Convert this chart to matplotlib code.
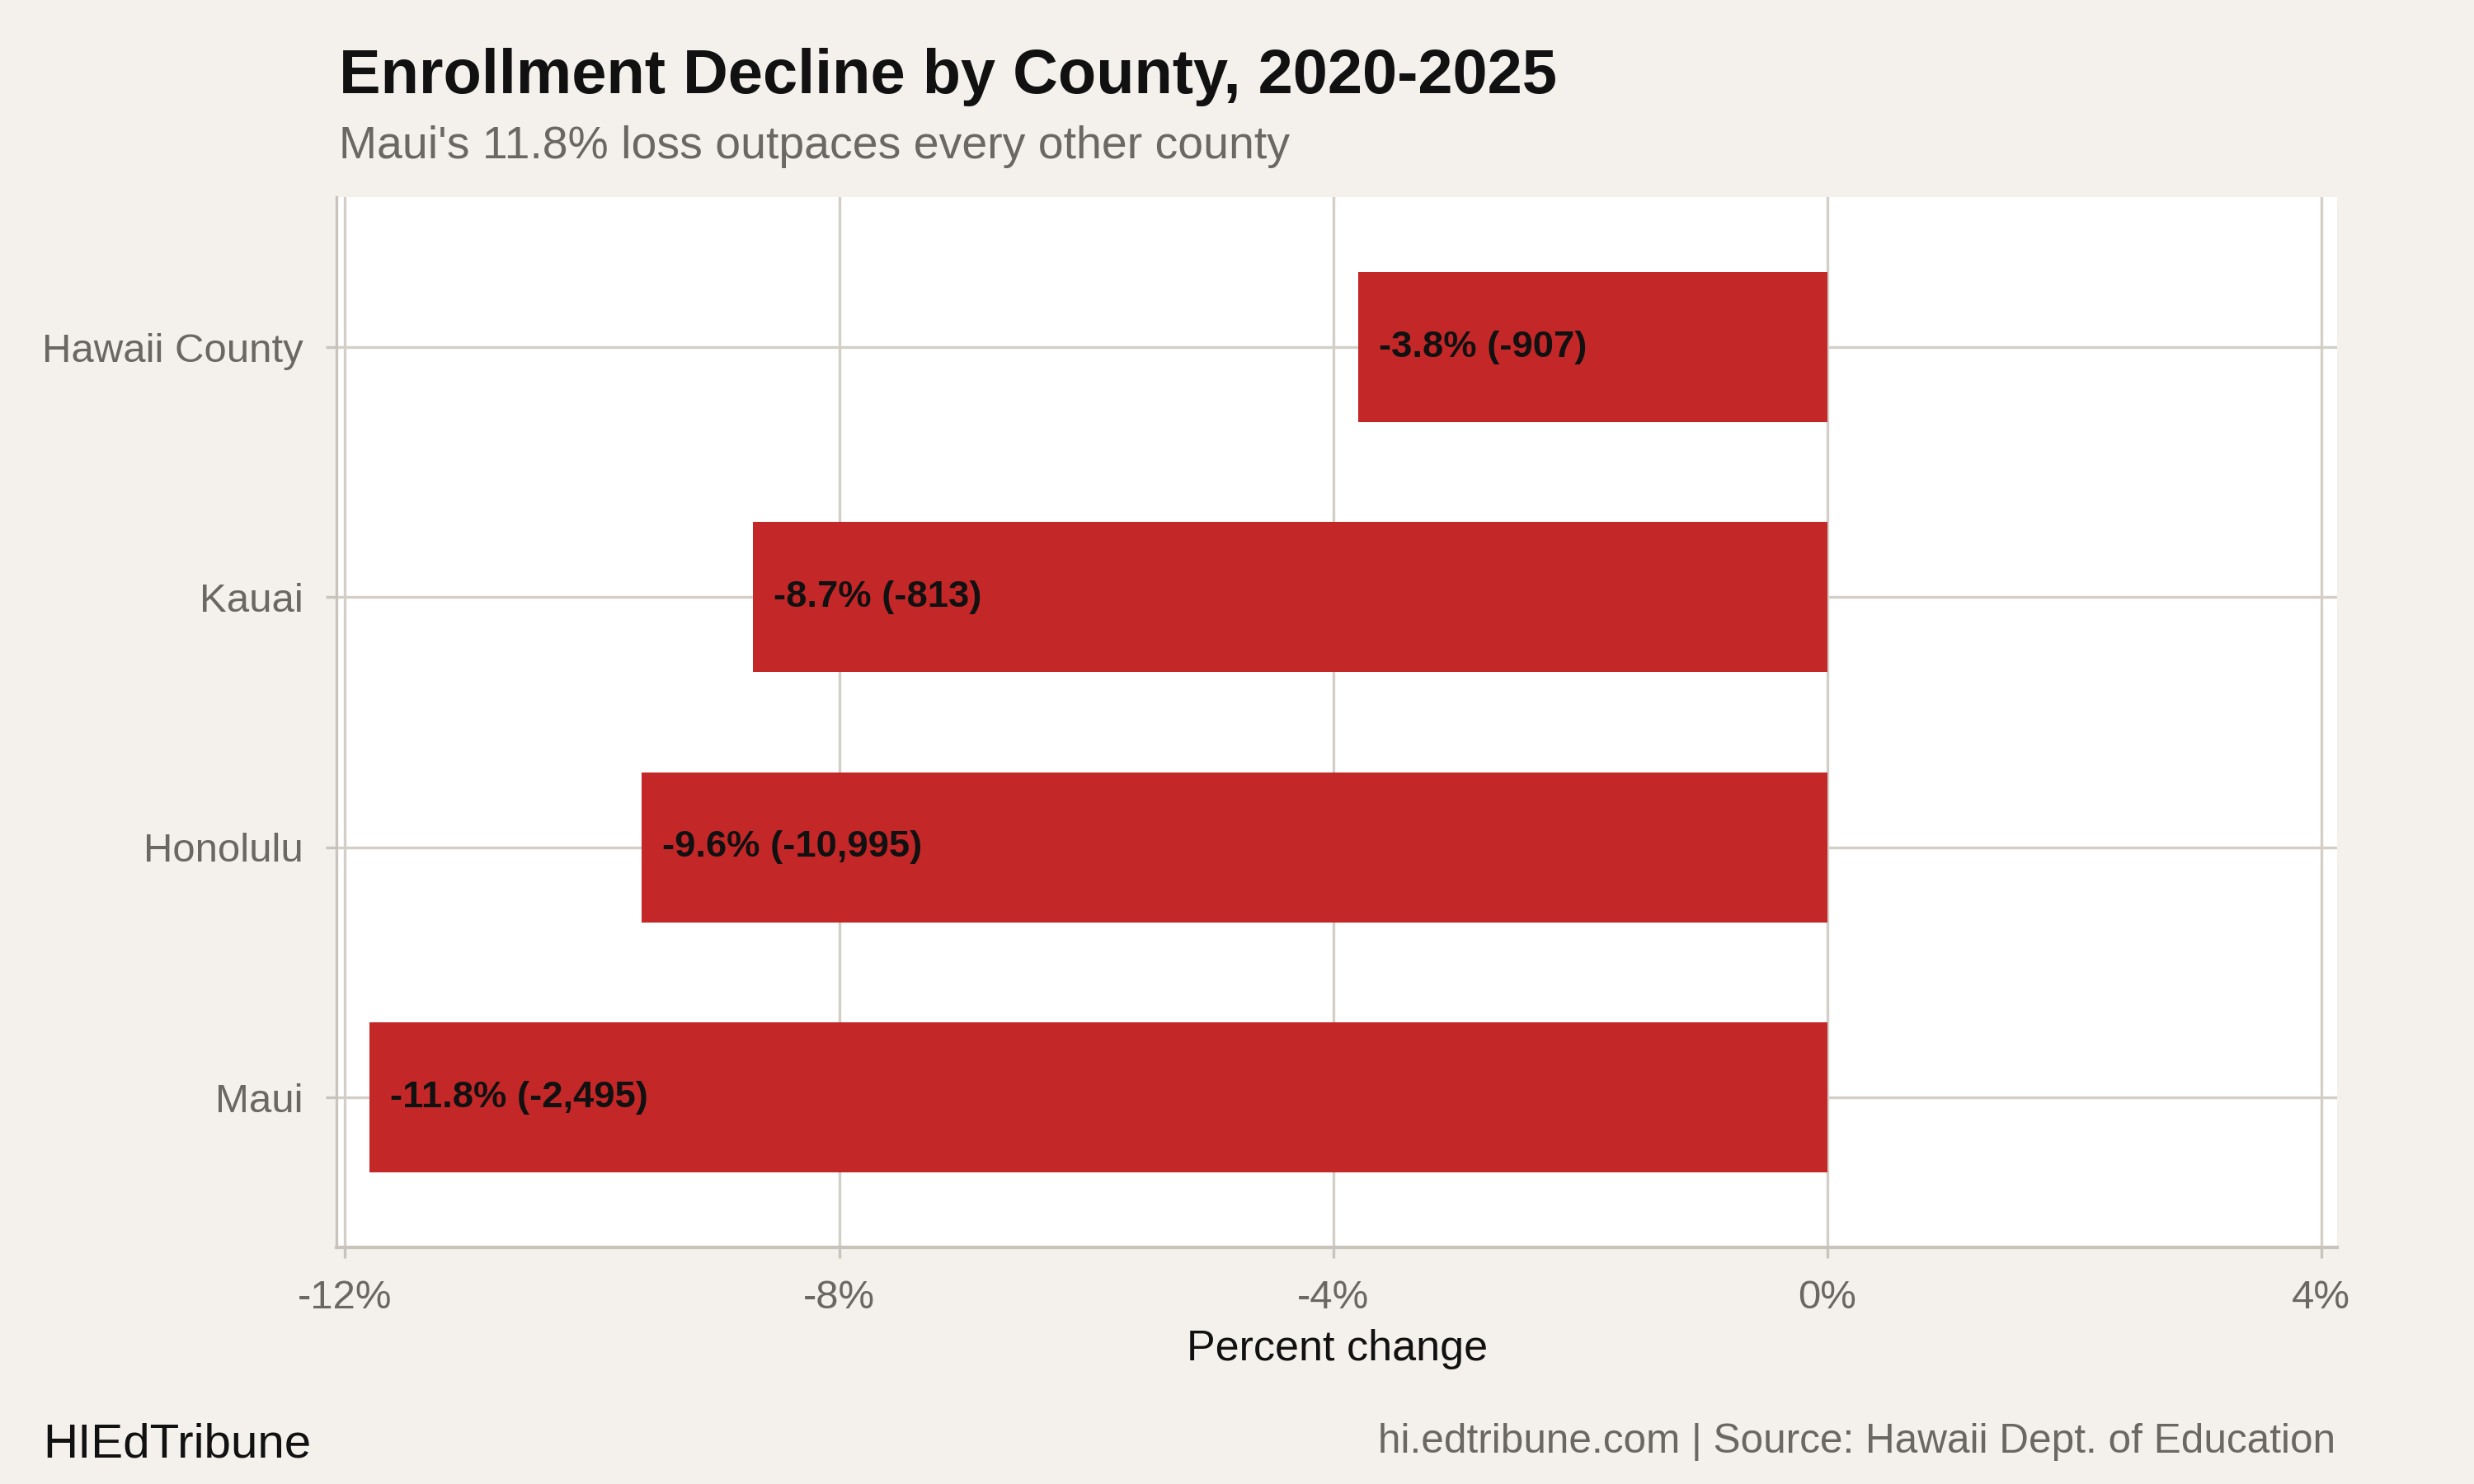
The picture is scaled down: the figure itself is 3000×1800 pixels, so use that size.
import matplotlib.pyplot as plt
from matplotlib import rcParams

rcParams['font.family'] = ['Liberation Sans', 'DejaVu Sans']

# data (top to bottom as drawn)
counties = ['Hawaii County', 'Kauai', 'Honolulu', 'Maui']
pct_change = [-3.8, -8.7, -9.6, -11.8]
count_change = [-907, -813, -10995, -2495]
x_ticks = [-12, -8, -4, 0, 4]

bg = '#f4f1ec'
grid_col = '#d3cfc7'
spine_col = '#c9c4bb'
bar_col = '#c42727'
grey_txt = '#6b6862'

fig = plt.figure(figsize=(10, 6), dpi=300, facecolor=bg)
ax = fig.add_axes([0.136, 0.1594, 0.8087, 0.7078])
ax.set_facecolor('white')

pos = list(range(len(counties)))[::-1]
ax.barh(pos, pct_change, height=0.6, color=bar_col, zorder=3)

for p, v, c in zip(pos, pct_change, count_change):
    ax.annotate(f'{v:.1f}% ({c:,})', xy=(v, p), xytext=(6, 0),
                textcoords='offset points', ha='left', va='center',
                fontsize=10.9, fontweight='bold', color='#111111', zorder=4)

ax.set_xlim(-12.07, 4.13)
ax.set_ylim(-0.6, 3.6)
ax.set_xticks(x_ticks)
ax.set_xticklabels([f'{t}%' for t in x_ticks])
ax.set_yticks(pos)
ax.set_yticklabels(counties)

ax.grid(True, color=grid_col, linewidth=0.8, zorder=0)
ax.set_axisbelow(True)

for s in ['top', 'right']:
    ax.spines[s].set_visible(False)
ax.spines['left'].set_color(spine_col)
ax.spines['left'].set_linewidth(0.8)
ax.spines['bottom'].set_color(spine_col)
ax.spines['bottom'].set_linewidth(1.0)

ax.tick_params(axis='both', colors=spine_col, labelcolor=grey_txt,
               labelsize=11.8, length=3.2, width=0.8)
ax.tick_params(axis='x', pad=6.2)
ax.tick_params(axis='y', pad=6.5)

fig.text(0.137, 0.9372, 'Enrollment Decline by County, 2020-2025',
         fontsize=18.2, fontweight='bold', color='#111111', va='baseline')
fig.text(0.137, 0.8933, "Maui's 11.8% loss outpaces every other county",
         fontsize=13.3, color=grey_txt, va='baseline')
fig.text(0.5405, 0.0833, 'Percent change', fontsize=12.5, color='#111111',
         ha='center', va='baseline')
fig.text(0.0173, 0.0183, 'HIEdTribune', fontsize=14, color='#111111',
         va='baseline')
fig.text(0.944, 0.0211, 'hi.edtribune.com | Source: Hawaii Dept. of Education',
         fontsize=11.9, color=grey_txt, ha='right', va='baseline')

fig.savefig('out.png', dpi=300, facecolor=bg)
